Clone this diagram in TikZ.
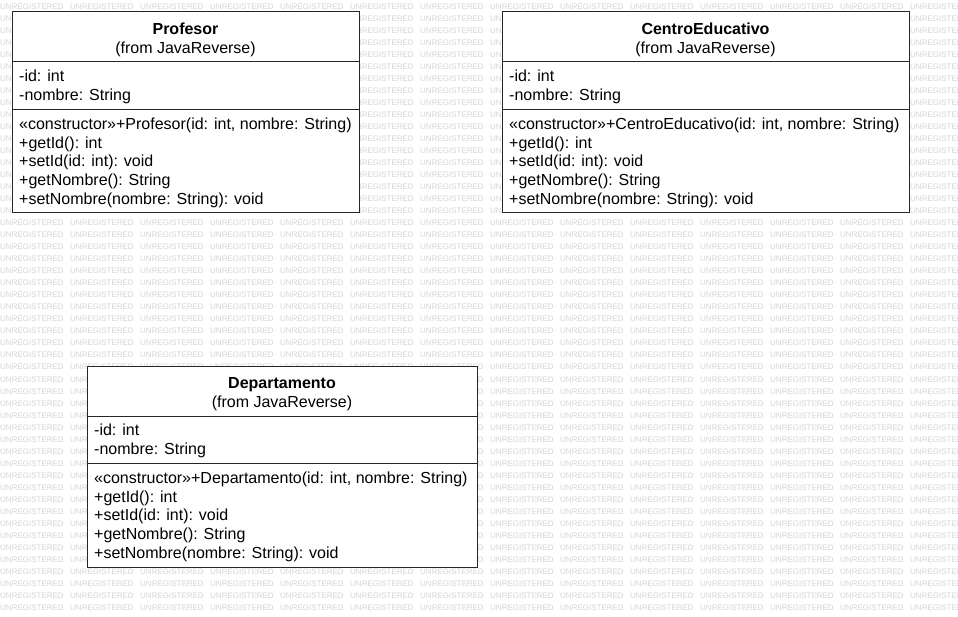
\documentclass[tikz,border=0pt]{standalone}
\usepackage{fontspec}
\setmainfont{Liberation Sans}
\usetikzlibrary{calc}
\pgfdeclarelayer{bg}
\pgfsetlayers{bg,main}
\tikzset{
  wm/.style={font=\fontsize{8}{9}\selectfont, text=black!17, inner sep=0pt, anchor=base west},
  box/.style={draw=black!85, line width=1pt, fill=white, anchor=north west, inner sep=0pt, outer sep=0pt, minimum height=201pt},
  boxline/.style={draw=black!85, line width=1pt},
  shadowc/.style={fill=black!7},
  cname/.style={font=\fontsize{16}{19}\selectfont\bfseries, inner sep=0pt, anchor=base},
  from/.style={font=\fontsize{16}{19}\selectfont, inner sep=0pt, anchor=base},
  txt/.style={font=\fontsize{16}{19}\selectfont, inner sep=0pt, anchor=base west},
}
\newcommand{\umlbox}[4]{%
  \node[box, minimum width=#3] (#1) at #2 {};
  \begin{pgfonlayer}{bg}
    \fill[shadowc] ($(#1.north west)+(6,6)$) rectangle ($(#1.south east)+(6,6)$);
  \end{pgfonlayer}
  \draw[boxline] ($(#1.north west)+(0,50)$) -- ($(#1.north east)+(0,50)$);
  \draw[boxline] ($(#1.north west)+(0,97.5)$) -- ($(#1.north east)+(0,97.5)$);
  \node[cname] (#1-name) at ($(#1.north)+(0,22.3)$) {#4};
  \node[from] (#1-from) at ($(#1.north)+(0,41.3)$) {(from JavaReverse)};
  \node[txt] (#1-a1) at ($(#1.north west)+(7,69.7)$) {-id: int};
  \node[txt] (#1-a2) at ($(#1.north west)+(7,88.7)$) {-nombre: String};
  \node[txt] (#1-m1) at ($(#1.north west)+(7,117.3)$) {«constructor»+#4(id: int, nombre: String)};
  \node[txt] (#1-m2) at ($(#1.north west)+(7,136.1)$) {+getId(): int};
  \node[txt] (#1-m3) at ($(#1.north west)+(7,154.9)$) {+setId(id: int): void};
  \node[txt] (#1-m4) at ($(#1.north west)+(7,173.7)$) {+getNombre(): String};
  \node[txt] (#1-m5) at ($(#1.north west)+(7,192.4)$) {+setNombre(nombre: String): void};
}
\begin{document}
\begin{tikzpicture}[x=1pt,y=-1pt]
\fill[white] (0,0) rectangle (958,617);
\useasboundingbox (0,0) rectangle (958,617);
\clip (0,0) rectangle (958,617);
\foreach \r in {1,...,51} {
  \foreach \c in {0,...,13} {
    \node[wm] (wm-\r-\c) at ({\c*70}, {-2+\r*12}) {UNREGISTERED};
  }
}
\umlbox{prof}{(12,12)}{347pt}{Profesor}
\umlbox{centro}{(502,12)}{407pt}{CentroEducativo}
\umlbox{depto}{(87,366)}{390pt}{Departamento}
\end{tikzpicture}
\end{document}
